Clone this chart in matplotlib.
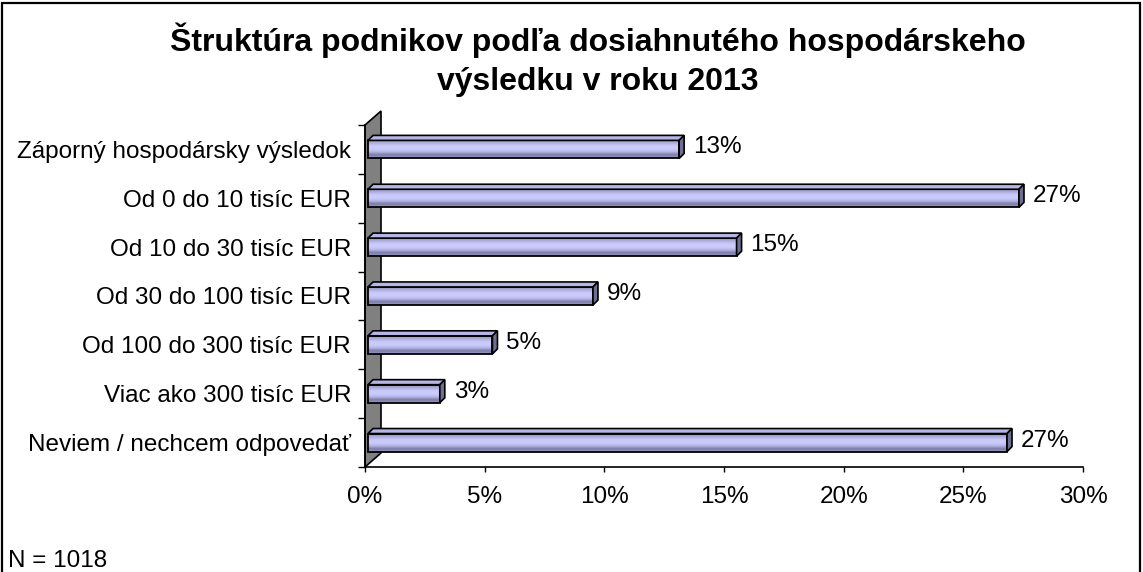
import numpy as np
import matplotlib
matplotlib.use('Agg')
import matplotlib.pyplot as plt
from matplotlib.patches import Polygon, Rectangle
from matplotlib.colors import LinearSegmentedColormap

# Data
categories = ['Záporný hospodársky výsledok', 'Od 0 do 10 tisíc EUR', 'Od 10 do 30 tisíc EUR',
              'Od 30 do 100 tisíc EUR', 'Od 100 do 300 tisíc EUR', 'Viac ako 300 tisíc EUR',
              'Neviem / nechcem odpovedať']
values = [13.0, 27.2, 15.4, 9.4, 5.2, 3.0, 26.7]
xticks = [0, 5, 10, 15, 20, 25, 30]
xtick_labels = ['0%', '5%', '10%', '15%', '20%', '25%', '30%']
title_lines = ['Štruktúra podnikov podľa dosiahnutého hospodárskeho', 'výsledku v roku 2013']
note = 'N = 1018'

plt.rcParams['font.family'] = ['Liberation Sans', 'DejaVu Sans']

W, H = 1143, 572
fig = plt.figure(figsize=(W / 100, H / 100), dpi=100)
ax_l, ax_b, ax_w, ax_h = 365 / W, 1 - 467 / H, (1083 - 365) / W, (467 - 125) / H
ax = fig.add_axes([ax_l, ax_b, ax_w, ax_h])
ax.set_xlim(0, 30)
ax.set_ylim(-0.5, len(categories) - 0.5)

# data units per pixel
px_x = 30 / (ax_w * W)
px_y = len(categories) / (ax_h * H)

ypos = np.arange(len(categories))[::-1]
h = 0.37
sx = 3 * px_x
dx, dy = 5 * px_x, 5 * px_y

# grey side wall
wdx, wdy = 16 * px_x, 14 * px_y
wall = Polygon([(0, -0.5), (wdx, -0.5 + wdy), (wdx, 6.5 + wdy), (0, 6.5)],
               closed=True, facecolor='#808080', edgecolor='black', lw=1.2, clip_on=False, zorder=1)
ax.add_patch(wall)

bars = ax.barh(ypos, values, left=sx, height=h, color='#C4C4F4', edgecolor='none', zorder=2)

cmap = LinearSegmentedColormap.from_list('face', ['#9A9AC6', '#7C7CA8', '#B8B8E8', '#CCCCFF',
                                                  '#C8C8F8', '#A8A8D6', '#8A8AB6'])
grad = np.linspace(0, 1, 64).reshape(-1, 1)
for p, v, y in zip(bars.patches, values, ypos):
    ax.imshow(grad, extent=(sx, sx + v, y + h / 2, y - h / 2), cmap=cmap, aspect='auto',
              clip_path=p, zorder=2.1, interpolation='bilinear')
    ax.add_patch(Rectangle(p.get_xy(), p.get_width(), p.get_height(), fill=False,
                           ec='black', lw=1.3, zorder=3))
    top = Polygon([(sx, y + h / 2), (sx + v, y + h / 2), (sx + v + dx, y + h / 2 + dy),
                   (sx + dx, y + h / 2 + dy)], closed=True, fc='#B6B6E6', ec='black', lw=1.2, zorder=3)
    side = Polygon([(sx + v, y - h / 2), (sx + v + dx, y - h / 2 + dy), (sx + v + dx, y + h / 2 + dy),
                    (sx + v, y + h / 2)], closed=True, fc='#6E6E92', ec='black', lw=1.2, zorder=3)
    ax.add_patch(top)
    ax.add_patch(side)
    ax.text(sx + v + dx + 9 * px_x, y + 2 * px_y, f'{v:.0f}%', va='center', ha='left', fontsize=17.5)

ax.set_xlim(0, 30)
ax.set_ylim(-0.5, len(categories) - 0.5)

ax.set_yticks(ypos)
ax.set_yticklabels(categories, fontsize=17.5)
ax.set_yticks(np.arange(-0.5, len(categories), 1), minor=True)
ax.tick_params(axis='y', which='major', length=0, pad=10)
ax.tick_params(axis='y', which='minor', length=5, width=1, direction='out')
ax.set_xticks(xticks)
ax.set_xticklabels(xtick_labels, fontsize=17.5)
ax.tick_params(axis='x', length=3.5, width=1, direction='out', pad=10)

for s in ['top', 'right']:
    ax.spines[s].set_visible(False)
ax.spines['left'].set_linewidth(1.2)
ax.spines['bottom'].set_linewidth(1.2)
ax.spines['left'].set_zorder(4)
ax.patch.set_visible(False)

fig.text(598 / W, 1 - 40 / H, title_lines[0], ha='center', va='center', fontsize=23, fontweight='bold')
fig.text(598 / W, 1 - 82 / H, title_lines[1], ha='center', va='center', fontsize=23, fontweight='bold')
fig.text(8 / W, 1 - 561 / H, note, ha='left', va='center', fontsize=17.5)

fig.patches.append(Rectangle((2 / W, -0.05), (1140 - 2) / W, 1.05 - 3 / H, transform=fig.transFigure,
                             fill=False, ec='black', lw=1.6))

fig.savefig('out.png', dpi=100)
